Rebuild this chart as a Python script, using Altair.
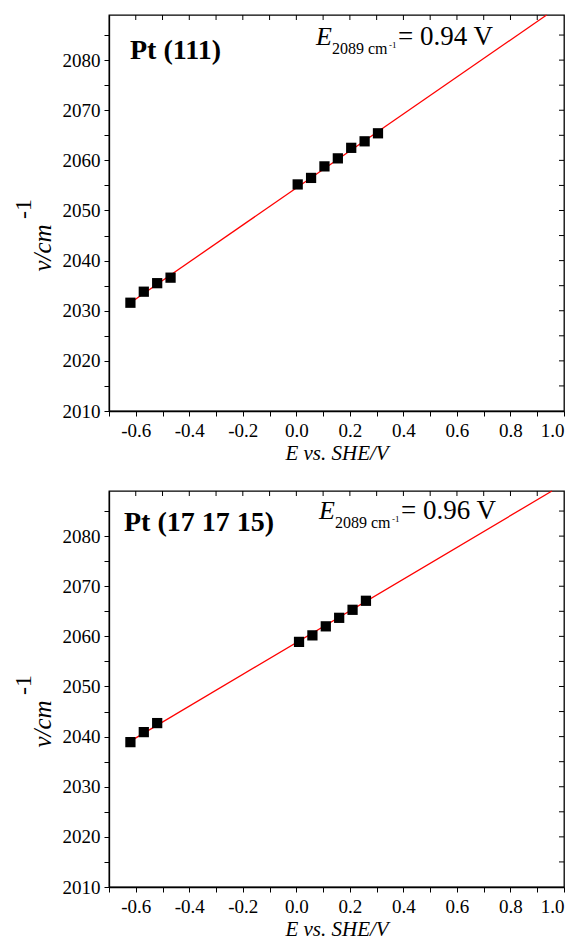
import altair as alt
import pandas as pd

# ---------------- data ----------------
# Pt(111)
x_top = [-0.62, -0.57, -0.52, -0.47, 0.005, 0.055, 0.105, 0.155, 0.205, 0.255, 0.305]
y_top = [2031.6, 2033.8, 2035.5, 2036.6, 2055.2, 2056.5, 2058.8, 2060.4, 2062.5, 2063.8, 2065.4]
fit_top_x = [-0.62, 0.935]
fit_top_y = [2031.6, 2089.0]

# Pt(17 17 15)
x_bot = [-0.62, -0.57, -0.52, 0.01, 0.06, 0.11, 0.16, 0.21, 0.26]
y_bot = [2038.9, 2040.9, 2042.7, 2058.9, 2060.2, 2062.0, 2063.7, 2065.3, 2067.1]
fit_bot_x = [-0.62, 0.955]
fit_bot_y = [2039.1, 2089.0]

x_ticks = [-0.7, -0.6, -0.5, -0.4, -0.3, -0.2, -0.1, 0.0, 0.1, 0.2, 0.3, 0.4, 0.5, 0.6, 0.7, 0.8, 0.9, 1.0]
y_ticks = [2010, 2015, 2020, 2025, 2030, 2035, 2040, 2045, 2050, 2055, 2060, 2065, 2070, 2075, 2080, 2085]

labels = ["Pt (111)", "Pt (17 17 15)"]
e_values = ["= 0.94 V", "= 0.96 V"]

W, H = 455, 396
FONT = "'Liberation Serif', 'Times New Roman', 'DejaVu Serif', serif"

xs = alt.Scale(domain=[-0.7, 1.0], nice=False, zero=False)
ys = alt.Scale(domain=[2010, 2089], nice=False, zero=False)

x_axis = alt.Axis(
    values=x_ticks, title="E vs. SHE/V", titleFontStyle="italic", titleFontWeight="normal",
    titleFontSize=21, titleFont=FONT, titleColor="black", titlePadding=2,
    labelFont=FONT, labelFontSize=19, labelColor="black",
    labelExpr="abs(round(datum.value*10)) % 2 == 0 ? (datum.value < -0.001 ? '-' + format(-datum.value, '.1f') : format(abs(datum.value), '.1f')) : ''",
    labelOverlap=False, labelFlush=7, grid=False, tickSize=5, labelPadding=5,
)
y_axis = alt.Axis(
    values=y_ticks, title=None,
    labelFont=FONT, labelFontSize=19, labelColor="black",
    labelExpr="round(datum.value) % 10 == 0 ? format(datum.value, 'd') : ''",
    labelOverlap=False, labelFlush=False, grid=False, tickSize=5, labelPadding=4,
)

one = pd.DataFrame({"a": [0]})


def txt(s, x, y, size, style="normal", weight="normal", angle=0, align="left", baseline="alphabetic"):
    return alt.Chart(one).mark_text(
        text=s, font=FONT, fontSize=size, fontStyle=style, fontWeight=weight,
        angle=angle, align=align, baseline=baseline, color="black",
    ).encode(x=alt.value(x), y=alt.value(y))


def panel(xv, yv, fx, fy, label, ev, lab_dx, lab_dy, e_dx, e_dy):
    pts = pd.DataFrame({"x": xv, "y": yv})
    fit = pd.DataFrame({"x": fx, "y": fy})
    xt = pd.DataFrame({"x": x_ticks[1:-1]})
    yt = pd.DataFrame({"y": y_ticks[1:]})

    X = alt.X("x:Q", scale=xs, axis=x_axis)
    Y = alt.Y("y:Q", scale=ys, axis=y_axis)

    line = alt.Chart(fit).mark_line(color="#ff0000", strokeWidth=1.3).encode(x=X, y=Y)
    sq = alt.Chart(pts).mark_point(shape="square", filled=True, color="black", size=105, opacity=1).encode(x=X, y=Y)
    top_ticks = alt.Chart(xt).mark_rule(color="black", strokeWidth=1).encode(
        x=X, y=alt.value(0), y2=alt.value(5))
    right_ticks = alt.Chart(yt).mark_rule(color="black", strokeWidth=1).encode(
        y=Y, x=alt.value(W - 5), x2=alt.value(W))

    texts = [
        txt(label, lab_dx, lab_dy, 28, weight="bold"),
        txt("E", e_dx, e_dy, 26, style="italic"),
        txt("2089 cm", e_dx + 16, e_dy + 9, 16),
        txt("-1", e_dx + 73, e_dy + 3, 9),
        txt(ev, e_dx + 82, e_dy, 27),
        txt("ν/cm", -66, 233, 25, style="italic", angle=270, align="center", baseline="middle"),
        txt("-1", -85, 194, 24, angle=270, align="center", baseline="middle"),
    ]
    return alt.layer(top_ticks, right_ticks, line, sq, *texts).properties(width=W, height=H)


top = panel(x_top, y_top, fit_top_x, fit_top_y, labels[0], e_values[0], 21, 44, 207, 30)
bot = panel(x_bot, y_bot, fit_bot_x, fit_bot_y, labels[1], e_values[1], 15, 40, 210, 28)

chart = alt.vconcat(top, bot, spacing=80, bounds="flush").properties(
    padding={"left": 3, "top": 3, "right": 0, "bottom": 0}
).configure(font=FONT).configure_view(stroke="black", strokeWidth=1.3).configure_axis(
    domainColor="black", domainWidth=1.3, tickColor="black", tickWidth=1,
    labelFont=FONT, titleFont=FONT,
)

chart.save("out.html", embed_options={"renderer": "svg", "actions": False})
